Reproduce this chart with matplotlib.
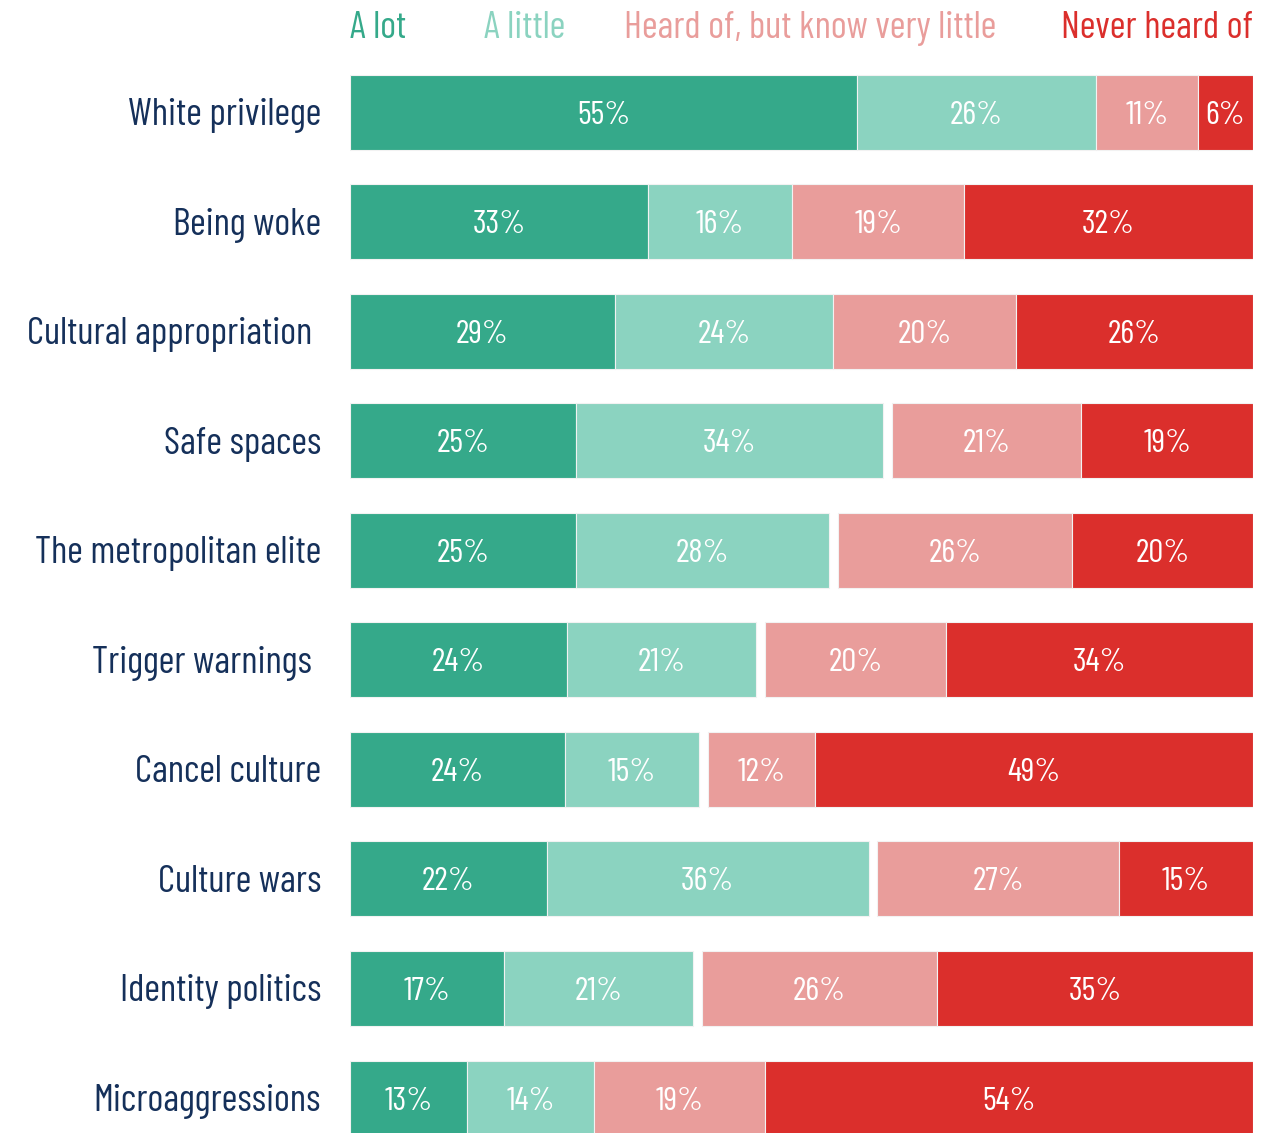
import matplotlib.pyplot as plt
from matplotlib import font_manager as fm
import numpy as np

topics = ['White privilege', 'Being woke', 'Cultural appropriation', 'Safe spaces',
          'The metropolitan elite', 'Trigger warnings', 'Cancel culture',
          'Culture wars', 'Identity politics', 'Microaggressions']
a_lot = [55, 33, 29, 25, 25, 24, 24, 22, 17, 13]
a_little = [26, 16, 24, 34, 28, 21, 15, 36, 21, 14]
heard_little = [11, 19, 20, 21, 26, 20, 12, 27, 26, 19]
never_heard = [6, 32, 26, 19, 20, 34, 49, 15, 35, 54]
gap = [0, 0, 0, 1, 1, 1, 1, 1, 1, 0]  # blank space between the two halves

legend_names = ['A lot', 'A little', 'Heard of, but know very little', 'Never heard of']
colors = ['#35a98a', '#8bd3c0', '#e99d9b', '#db2f2c']
navy = '#15305a'

# pick a condensed face if there is one, else DejaVu Sans
have = {f.name for f in fm.fontManager.ttflist}
fam = 'DejaVu Sans'
for cand in ['Barlow Condensed', 'Roboto Condensed', 'Archivo Narrow',
             'PT Sans Narrow', 'Liberation Sans Narrow', 'Open Sans Condensed']:
    if cand in have:
        fam = cand
        break
plt.rcParams['font.family'] = [fam, 'DejaVu Sans']
if fam == 'DejaVu Sans':
    fs_lab, fs_val = 21, 21
else:
    fs_lab, fs_val = 27.5, 24

W, H = 1281, 1133
fig = plt.figure(figsize=(W / 100, H / 100), dpi=100)

# rows: first centre at y=112px, pitch ~109.6px, axes ends at bottom of figure
pitch = 109.56
top_px = 112 - pitch / 2
ymax = (H - 112) / pitch
ax = fig.add_axes([350 / W, 0, (1253 - 350) / W, 1 - top_px / H])
ax.set_xlim(0, 100)
ax.set_ylim(ymax, -0.5)
ax.axis('off')

dy = 3.5 / pitch  # nudge text down a touch so it sits mid-bar

series = [a_lot, a_little, None, heard_little, never_heard]
ypos = np.arange(len(topics))
total = (np.array(a_lot) + np.array(a_little) + np.array(heard_little)
         + np.array(never_heard) + np.array(gap))
scale = 100.0 / total

left = np.zeros(len(topics))
ci = 0
for s in series:
    if s is None:
        left += np.array(gap) * scale
        continue
    w = np.array(s) * scale
    ax.barh(ypos, w, left=left, height=75 / pitch, color=colors[ci],
            edgecolor='#f2f2f2', linewidth=0.8)
    for y, l, wi, v in zip(ypos, left, w, s):
        ax.text(l + wi / 2, y + dy, f'{v}%', ha='center', va='center',
                color='white', fontsize=fs_val)
    left += w
    ci += 1

# two labels sit a little further left in the original
extra_pad = {'Cultural appropriation': 1.0, 'Trigger warnings': 1.0}
for y, t in zip(ypos, topics):
    ax.text(-3.2 - extra_pad.get(t, 0), y + dy, t, ha='right', va='center',
            color=navy, fontsize=fs_lab)

# legend row across the top
ly = (28 - 112) / pitch
leg_x = [0, 19.3, 50.9, 100]
leg_ha = ['left', 'center', 'center', 'right']
for name, x, ha, c in zip(legend_names, leg_x, leg_ha, colors):
    ax.text(x, ly, name, ha=ha, va='center', color=c, fontsize=fs_lab,
            clip_on=False)

fig.savefig('out.png', dpi=100)
